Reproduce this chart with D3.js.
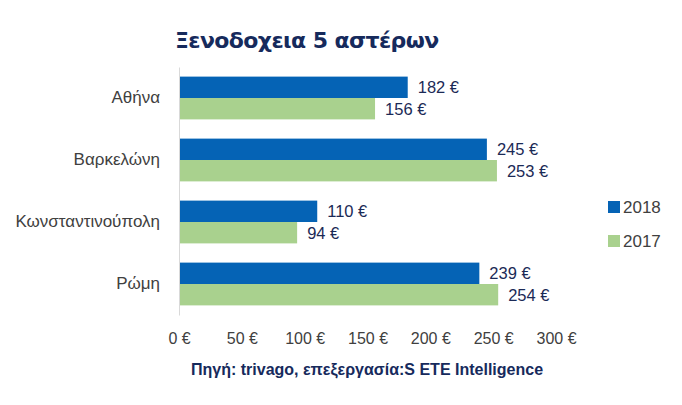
<!DOCTYPE html>
<html>
<head>
<meta charset="utf-8">
<script src="https://cdn.jsdelivr.net/npm/d3@7"></script>
<style>
  body { margin: 0; background: #fff; }
  svg { display: block; }
</style>
</head>
<body>
<div id="chart"></div>
<script>
var cities = ["Αθήνα", "Βαρκελώνη", "Κωνσταντινούπολη", "Ρώμη"];
var years = ["2018", "2017"];
var values2018 = [182, 245, 110, 239];
var values2017 = [156, 253, 94, 254];
var xTicks = [0, 50, 100, 150, 200, 250, 300];

var width = 682, height = 405;
var colors = { "2018": "#0563b5", "2017": "#a9d18e" };
var textFont = "'Liberation Sans', Arial, sans-serif";

var svg = d3.select("#chart").append("svg")
    .attr("width", width).attr("height", height);

var x = d3.scaleLinear().domain([0, 300]).range([179, 556]);
var y = d3.scaleBand().domain(cities).range([67, 315]).paddingInner(0.31).paddingOuter(0.155);
var ySub = d3.scaleBand().domain(years).range([0, y.bandwidth()]);

// title
svg.append("text")
    .attr("x", 175).attr("y", 48)
    .style("font-family", "'DejaVu Sans', Verdana, sans-serif")
    .style("font-weight", "bold").style("font-size", "22px")
    .style("letter-spacing", "-0.6px")
    .style("fill", "#162a5c")
    .text("Ξενοδοχεια 5 αστέρων");

// bars
var groups = svg.selectAll("g.city").data(cities).enter().append("g")
    .attr("class", "city")
    .attr("transform", function (d) { return "translate(0," + y(d) + ")"; });

groups.each(function (c, i) {
    var g = d3.select(this);
    var rows = [{ year: "2018", v: values2018[i] }, { year: "2017", v: values2017[i] }];
    g.selectAll("rect").data(rows).enter().append("rect")
        .attr("x", x(0))
        .attr("y", function (d) { return ySub(d.year); })
        .attr("width", function (d) { return x(d.v) - x(0); })
        .attr("height", ySub.bandwidth())
        .style("fill", function (d) { return colors[d.year]; });
    g.selectAll("text.val").data(rows).enter().append("text")
        .attr("class", "val")
        .attr("x", function (d) { return x(d.v) + 10; })
        .attr("y", function (d) { return ySub(d.year) + ySub.bandwidth() / 2; })
        .attr("dy", "0.36em")
        .style("font-family", textFont).style("font-size", "16.5px")
        .style("fill", "#1b2a56")
        .text(function (d) { return d.v + " €"; });
});

// y axis
var yAxis = svg.append("g")
    .attr("transform", "translate(" + x(0) + ",0)")
    .call(d3.axisLeft(y).tickSize(0).tickPadding(19));
yAxis.select(".domain").attr("stroke", "#d9d9d9");
yAxis.selectAll("text")
    .style("font-family", textFont).style("font-size", "17px")
    .style("fill", "#404040");

// x axis (labels only)
var xAxis = svg.append("g")
    .attr("transform", "translate(0,322)")
    .call(d3.axisBottom(x).tickValues(xTicks).tickSize(0).tickPadding(11)
        .tickFormat(function (d) { return d + " €"; }));
xAxis.select(".domain").remove();
xAxis.selectAll("text")
    .style("font-family", textFont).style("font-size", "16px")
    .style("fill", "#404040");

// legend
var legend = svg.selectAll("g.leg").data(years).enter().append("g")
    .attr("class", "leg")
    .attr("transform", function (d, i) { return "translate(608," + (201 + i * 34) + ")"; });
legend.append("rect").attr("width", 12).attr("height", 12)
    .style("fill", function (d) { return colors[d]; });
legend.append("text").attr("x", 15).attr("y", 6).attr("dy", "0.36em")
    .style("font-family", textFont).style("font-size", "17px")
    .style("fill", "#404040")
    .text(function (d) { return d; });

// source
svg.append("text")
    .attr("x", 367).attr("y", 375)
    .attr("text-anchor", "middle")
    .style("font-family", textFont).style("font-weight", "bold").style("font-size", "16px")
    .style("fill", "#162a5c")
    .text("Πηγή: trivago, επεξεργασία:S ETE Intelligence");
</script>
</body>
</html>
